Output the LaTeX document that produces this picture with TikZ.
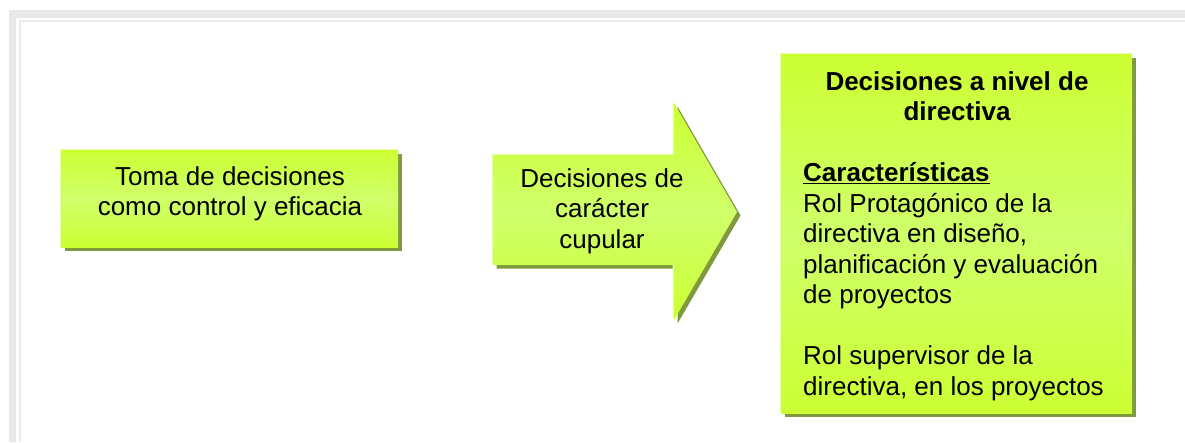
\documentclass[tikz,border=0pt]{standalone}
\usepackage{fontspec}
\setmainfont{Liberation Sans}
\usetikzlibrary{backgrounds}
\definecolor{gtop}{HTML}{CCFF33}
\definecolor{gmid}{HTML}{CFFF6A}
\definecolor{shadowc}{HTML}{7F9A3C}
\definecolor{hilite}{HTML}{E6FFA8}
\definecolor{frameA}{HTML}{E8E8E8}
\definecolor{frameB}{HTML}{ECECEC}
\begin{document}
\begin{tikzpicture}[x=1pt,y=-1pt,
  lbl/.style={font=\fontsize{26}{30.5}\selectfont, inner sep=0pt, text=black},
  greenfill/.style={top color=gtop, bottom color=gtop, middle color=gmid},
  gbox/.style={greenfill, draw=none, inner sep=0pt, anchor=north west},
  shadowfill/.style={fill=shadowc},
  hifill/.style={fill=hilite}]
\useasboundingbox (0,0) rectangle (1185,442);

% box 1
\node[gbox, minimum width=337pt, minimum height=97pt] (b1) at (61,150) {};
\node[lbl, align=center, anchor=base] (t1) at (230,215.5)
  {Toma de decisiones\\como control y eficacia};

% arrow
\coordinate (a1) at (493,155);
\coordinate (a2) at (674,155);
\coordinate (a3) at (674,103);
\coordinate (a4) at (737,212);
\coordinate (a5) at (674,320);
\coordinate (a6) at (674,265);
\coordinate (a7) at (493,265);
\shade[greenfill] (a1) -- (a2) -- (a3) -- (a4) -- (a5) -- (a6) -- (a7) -- cycle;
\node[lbl, align=center, anchor=base] (t2) at (602,248)
  {Decisiones de\\carácter\\cupular};

% box 3
\node[gbox, minimum width=351pt, minimum height=359pt] (b3) at (781,54) {};
\node[lbl, align=center, anchor=base, font=\fontsize{26}{30.5}\selectfont\bfseries] (t3) at (957,120.5)
  {Decisiones a nivel de\\directiva};
\node[lbl, align=left, anchor=base west] (t4) at (803,395)
  {\underline{\textbf{Características}}\\
   Rol Protagónico de la\\
   directiva en diseño,\\
   planificación y evaluación\\
   de proyectos\\[30.5pt]
   Rol supervisor de la\\
   directiva, en los proyectos};

\begin{scope}[on background layer]
  \fill[white] (0,0) rectangle (1185,442);
  % frame
  \fill[frameA] (9,10) rectangle (1185,18);
  \fill[frameA] (9,10) rectangle (16,442);
  \fill[frameB] (19,20) rectangle (1185,22);
  \fill[frameB] (19,20) rectangle (21,442);
  \fill[shadowfill] ([shift={(3.5,3.5)}]b1.north west) rectangle ([shift={(3.5,3.5)}]b1.south east);
  \fill[hifill] ([shift={(-1,-1)}]b1.north west) rectangle (b1.south east);
  \fill[shadowfill] ([shift={(3.5,3.5)}]b3.north west) rectangle ([shift={(3.5,3.5)}]b3.south east);
  \fill[hifill] ([shift={(-1,-1)}]b3.north west) rectangle (b3.south east);
  \fill[shadowfill] ([shift={(3.5,3.5)}]a1) -- ([shift={(3.5,3.5)}]a2) -- ([shift={(3.5,3.5)}]a3)
    -- ([shift={(3.5,3.5)}]a4) -- ([shift={(3.5,3.5)}]a5) -- ([shift={(3.5,3.5)}]a6)
    -- ([shift={(3.5,3.5)}]a7) -- cycle;
  \fill[hifill] ([shift={(-1.5,-1)}]a1) -- ([shift={(-1.5,-1)}]a2) -- ([shift={(-1.5,-1)}]a3)
    -- ([shift={(-1.5,-1)}]a4) -- ([shift={(-1.5,-1)}]a5) -- ([shift={(-1.5,-1)}]a6)
    -- ([shift={(-1.5,-1)}]a7) -- cycle;
\end{scope}
\end{tikzpicture}
\end{document}
